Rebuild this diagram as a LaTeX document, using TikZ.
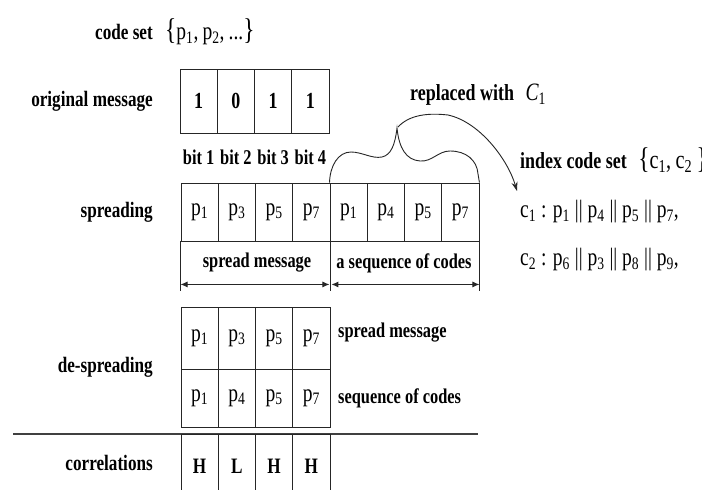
\documentclass[tikz,border=0pt]{standalone}
\usepackage{fontspec}
\setmainfont{Liberation Serif}[FakeStretch=0.78]
\usetikzlibrary{arrows.meta}

\newcommand{\psub}[1]{p\textsubscript{#1}}
\newcommand{\csub}[1]{c\textsubscript{#1}}

\begin{document}
\begin{tikzpicture}[x=1pt,y=-1pt,
  lbl/.style={font=\bfseries\fontsize{22}{23}\selectfont, anchor=east, inner sep=0},
  txt/.style={font=\bfseries\fontsize{21}{22}\selectfont, inner sep=0},
  cell/.style={draw=black!85, line width=0.9pt, minimum width=37.25pt, inner sep=0, anchor=center},
  bitcell/.style={cell, minimum height=64pt, font=\bfseries\fontsize{23}{24}\selectfont},
  pcell/.style={cell, minimum height=58pt, font=\fontsize{25}{26}\selectfont},
  formula/.style={font=\fontsize{25}{26}\selectfont, anchor=west, inner sep=0},
  edge/.style={draw=black!85, line width=0.9pt},
  dim/.style={edge, {Latex[length=7pt,width=6pt]}-{Latex[length=7pt,width=6pt]}},
]
\clip (0,0) rectangle (702,490);
\fill[white] (0,0) rectangle (702,490);

% row labels
\node[lbl] (lcode) at (153,32) {code set};
\node[lbl] (lorig) at (153,101) {original message};
\node[lbl] (lspread) at (153,212) {spreading};
\node[lbl] (ldesp) at (153,367) {de-spreading};
\node[lbl] (lcorr) at (153,463) {correlations};

% code set
\node[formula] (codeset) at (165,32)
  {{\fontsize{30}{30}\selectfont\{}\psub{1},\,\psub{2},\,...{\fontsize{30}{30}\selectfont\}}};

% original message bits
\foreach \b [count=\i from 0] in {1,0,1,1}
  \node[bitcell] (o\i) at ({198.6+37.25*\i},101) {\b};
\foreach \i in {1,...,4}
  \node[txt] (bit\i) at ({198.6+37.25*(\i-1)},157) {bit \i};

% spread message followed by the sequence of codes
\foreach \s [count=\i from 0] in {1,3,5,7,1,4,5,7}
  \node[pcell] (s\i) at ({199.6+37.25*\i},212) {\psub{\s}};

% extent markers below the spread row
\draw[edge] (s0.south west) -- ++(0,50) coordinate (t0);
\draw[edge] (s3.south east) -- ++(0,50) coordinate (t1);
\draw[edge] (s7.south east) -- ++(0,50) coordinate (t2);
\node[txt] (smsg) at (257,263) {spread message};
\node[txt] (sseq) at (404,263) {a sequence of codes};
\draw[dim] ([yshift=-43pt]s0.south west) -- ([yshift=-43pt,xshift=-1pt]s3.south east);
\draw[dim] ([yshift=-43pt,xshift=1pt]s3.south east) -- ([yshift=-43pt]s7.south east);

% brace over the sequence of codes
\draw[edge] (s4.north west)
  .. controls (330,166) and (338,152) .. (351,152)
  .. controls (362,152) and (372,159) .. (382,157)
  .. controls (391,155) and (395,145) .. (397,128) coordinate (tip)
  .. controls (399,148) and (406,160) .. (420,161)
  .. controls (432,162) and (438,151) .. (450,151)
  .. controls (466,151) and (477,160) .. (478,174)
  -- (s7.north east);

% arrow to the index code set
\coordinate (tipout) at (398,127);
\draw[edge, -{Stealth[length=9pt,width=6pt]}] (tipout)
  .. controls (410,114) and (430,113) .. (448,115)
  .. controls (480,122) and (508,160) .. (517,191) coordinate (arrend);

\node[anchor=west, inner sep=0] (repl) at (410,95)
  {\bfseries\fontsize{23}{24}\selectfont replaced with\enspace
   {\mdseries\itshape\fontsize{25}{26}\selectfont C\textsubscript{\upshape 1}}};

% index code set and its definitions
\node[anchor=west, inner sep=0] (idx) at (520,160)
  {\bfseries\fontsize{23}{24}\selectfont index code set\enspace
   {\mdseries\fontsize{26}{27}\selectfont{\fontsize{30}{30}\selectfont\{}\csub{1},\,\csub{2}\,{\fontsize{30}{30}\selectfont\}}}};
\node[formula] (c1def) at (520,212) {\csub{1} : \psub{1} || \psub{4} || \psub{5} || \psub{7},};
\node[formula] (c2def) at (520,260) {\csub{2} : \psub{6} || \psub{3} || \psub{8} || \psub{9},};

% de-spreading: spread message over the sequence of codes
\foreach \s [count=\i from 0] in {1,3,5,7}
  \node[pcell, minimum height=62pt] (d\i) at ({199.6+37.25*\i},338) {\psub{\s}};
\foreach \s [count=\i from 0] in {1,4,5,7}
  \node[pcell] (e\i) at ({199.6+37.25*\i},398) {\psub{\s}};
\node[txt, anchor=west] (dmsg) at (338,333) {spread message};
\node[txt, anchor=west] (dseq) at (338,398) {sequence of codes};

% separating rule
\coordinate (r0) at (13,434);
\coordinate (r1) at (478,434);
\draw[line width=1.4pt, black!75] (r0) -- (r1);

% correlation results
\foreach \c [count=\i from 0] in {H,L,H,H}
  \node[cell, minimum height=64pt, font=\bfseries\fontsize{22}{23}\selectfont] (h\i) at ({199.6+37.25*\i},466) {\c};
\end{tikzpicture}
\end{document}
